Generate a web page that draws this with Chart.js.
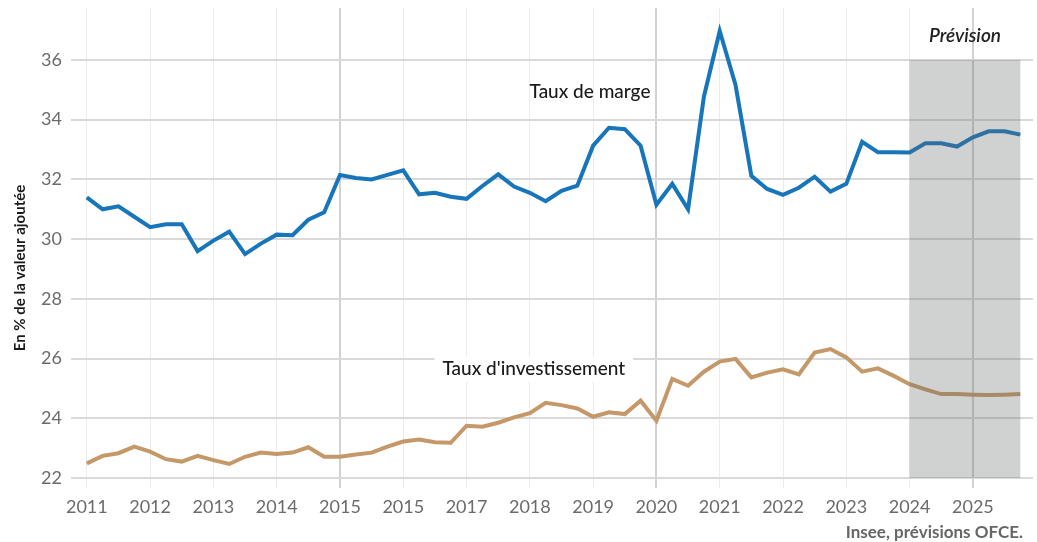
<!DOCTYPE html>
<html lang="fr">
<head>
<meta charset="utf-8">
<title>Taux de marge et taux d'investissement</title>
<script src="https://cdn.jsdelivr.net/npm/chart.js@4.4.1/dist/chart.umd.min.js"></script>
<style>
  html, body { margin: 0; padding: 0; background: #fff; }
  #wrap { width: 1037px; height: 542px; position: relative; }
</style>
</head>
<body>
<div id="wrap"><canvas id="myChart"></canvas></div>
<script>
// Trimestres 2011T1 -> 2025T4
const years = ['2011', '2012', '2013', '2014', '2015', '2015', '2017', '2018',
               '2019', '2020', '2021', '2022', '2023', '2024', '2025'];
const yTicks = [22, 24, 26, 28, 30, 32, 34, 36];

const tauxMarge = [
  31.4, 31.0, 31.1, 30.75, 30.4, 30.5, 30.5, 29.6,
  29.95, 30.25, 29.5, 29.85, 30.15, 30.13, 30.65, 30.9,
  32.15, 32.05, 32.0, 32.15, 32.3, 31.5, 31.55, 31.42,
  31.35, 31.78, 32.17, 31.76, 31.55, 31.27, 31.62, 31.79,
  33.13, 33.73, 33.68, 33.13, 31.15, 31.85, 31.0, 34.77,
  36.97, 35.16, 32.12, 31.68, 31.48, 31.72, 32.09, 31.59,
  31.85, 33.26, 32.91, 32.91, 32.9, 33.21, 33.21, 33.1,
  33.41, 33.61, 33.61, 33.5
];
const tauxInvest = [
  22.49, 22.74, 22.83, 23.05, 22.88, 22.63, 22.55, 22.74,
  22.6, 22.47, 22.71, 22.85, 22.8, 22.85, 23.03, 22.71,
  22.71, 22.79, 22.85, 23.05, 23.22, 23.29, 23.2, 23.18,
  23.75, 23.72, 23.85, 24.03, 24.17, 24.52, 24.44, 24.33,
  24.05, 24.2, 24.14, 24.59, 23.92, 25.32, 25.09, 25.56,
  25.9, 25.99, 25.37, 25.53, 25.64, 25.47, 26.2, 26.32,
  26.04, 25.56, 25.67, 25.42, 25.14, 24.97, 24.81, 24.81,
  24.79, 24.78, 24.79, 24.81
];

const prevStart = 52;  // 2024T1
const prevEnd = 59;    // 2025T4

const FONT = 'Lato, "Open Sans", sans-serif';

// étiquettes placées en coordonnées de données
const notes = [
  { text: 'Taux de marge', x: 31.8, y: 34.93, style: '500 19px ' + FONT, color: '#1a1a1a', bg: false },
  { text: "Taux d'investissement", x: 28.25, y: 25.65, style: '500 19px ' + FONT, color: '#1a1a1a', bg: true },
  { text: 'Prévision', x: 55.5, y: 36.8, style: 'italic 600 19px ' + FONT, color: '#222', bg: false }
];

const toXY = arr => arr.map((v, i) => ({ x: i, y: v }));

const overlay = {
  id: 'overlay',
  beforeDatasetsDraw(chart) {
    const { ctx, scales: { x, y } } = chart;
    ctx.save();
    ctx.textAlign = 'center';
    ctx.textBaseline = 'middle';
    notes.forEach(n => {
      ctx.font = n.style;
      const px = x.getPixelForValue(n.x);
      const py = y.getPixelForValue(n.y);
      if (n.bg) {
        const w = ctx.measureText(n.text).width;
        ctx.fillStyle = '#fff';
        ctx.fillRect(px - w / 2 - 8, py - 13, w + 16, 26);
      }
      ctx.fillStyle = n.color;
      ctx.fillText(n.text, px, py);
    });
    ctx.restore();
  },
  afterDatasetsDraw(chart) {
    const { ctx, scales: { x, y } } = chart;
    const x0 = x.getPixelForValue(prevStart);
    const x1 = x.getPixelForValue(prevEnd);
    const y0 = y.getPixelForValue(36);
    const y1 = y.getPixelForValue(22);
    ctx.save();
    ctx.fillStyle = 'rgba(98, 105, 105, 0.3)';
    ctx.fillRect(x0, y0, x1 - x0, y1 - y0);
    ctx.restore();
  },
  afterDraw(chart) {
    const { ctx, width } = chart;
    ctx.save();
    // titre de l'axe vertical
    ctx.translate(20, 268);
    ctx.rotate(-Math.PI / 2);
    ctx.font = 'bold 15px ' + FONT;
    ctx.fillStyle = '#1a1a1a';
    ctx.textAlign = 'center';
    ctx.textBaseline = 'middle';
    ctx.fillText('En % de la valeur ajoutée', 0, 0);
    ctx.restore();

    ctx.save();
    ctx.font = 'bold 17px ' + FONT;
    ctx.fillStyle = '#666';
    ctx.textAlign = 'right';
    ctx.textBaseline = 'alphabetic';
    ctx.fillText('Insee, prévisions OFCE.', width - 14, 538);
    ctx.restore();
  }
};

document.addEventListener('DOMContentLoaded', () => {
  const canvas = document.getElementById('myChart');
  new Chart(canvas, {
    type: 'line',
    data: {
      datasets: [{
        label: 'Taux de marge',
        data: toXY(tauxMarge),
        borderColor: '#1775bb',
        borderWidth: 4,
        pointRadius: 0,
        tension: 0
      }, {
        label: "Taux d'investissement",
        data: toXY(tauxInvest),
        borderColor: '#c49868',
        borderWidth: 4,
        pointRadius: 0,
        tension: 0
      }]
    },
    options: {
      responsive: true,
      maintainAspectRatio: false,
      animation: false,
      layout: { padding: { top: 8, right: 4, left: 0, bottom: 0 } },
      plugins: {
        legend: { display: false },
        tooltip: { enabled: false }
      },
      scales: {
        x: {
          type: 'linear',
          min: -1,
          max: 59.8,
          afterBuildTicks: scale => {
            scale.ticks = years.map((_, i) => ({ value: i * 4 }));
          },
          afterFit: scale => {
            scale.height = 54;
            scale.paddingLeft = 0;
            scale.paddingRight = 0;
          },
          ticks: {
            callback: (v) => years[Math.round(v / 4)],
            color: '#6b6b6b',
            font: { family: FONT, size: 18 },
            padding: 8,
            maxRotation: 0,
            autoSkip: false
          },
          grid: {
            drawTicks: false,
            color: ctx => (ctx.index % 5 === 4 ? '#d2d2d2' : '#ebebeb'),
            lineWidth: ctx => (ctx.index % 5 === 4 ? 2 : 1)
          },
          border: { display: false }
        },
        y: {
          min: 21.665,
          max: 37.74,
          afterBuildTicks: scale => {
            scale.ticks = yTicks.map(v => ({ value: v }));
          },
          afterFit: scale => {
            scale.width = 71;
            scale.paddingTop = 0;
            scale.paddingBottom = 0;
          },
          ticks: {
            color: '#6b6b6b',
            font: { family: FONT, size: 18 },
            padding: 9
          },
          grid: {
            drawTicks: false,
            color: '#d9d9d9',
            lineWidth: 2
          },
          border: { display: false }
        }
      }
    },
    plugins: [overlay]
  });
});
</script>
</body>
</html>
